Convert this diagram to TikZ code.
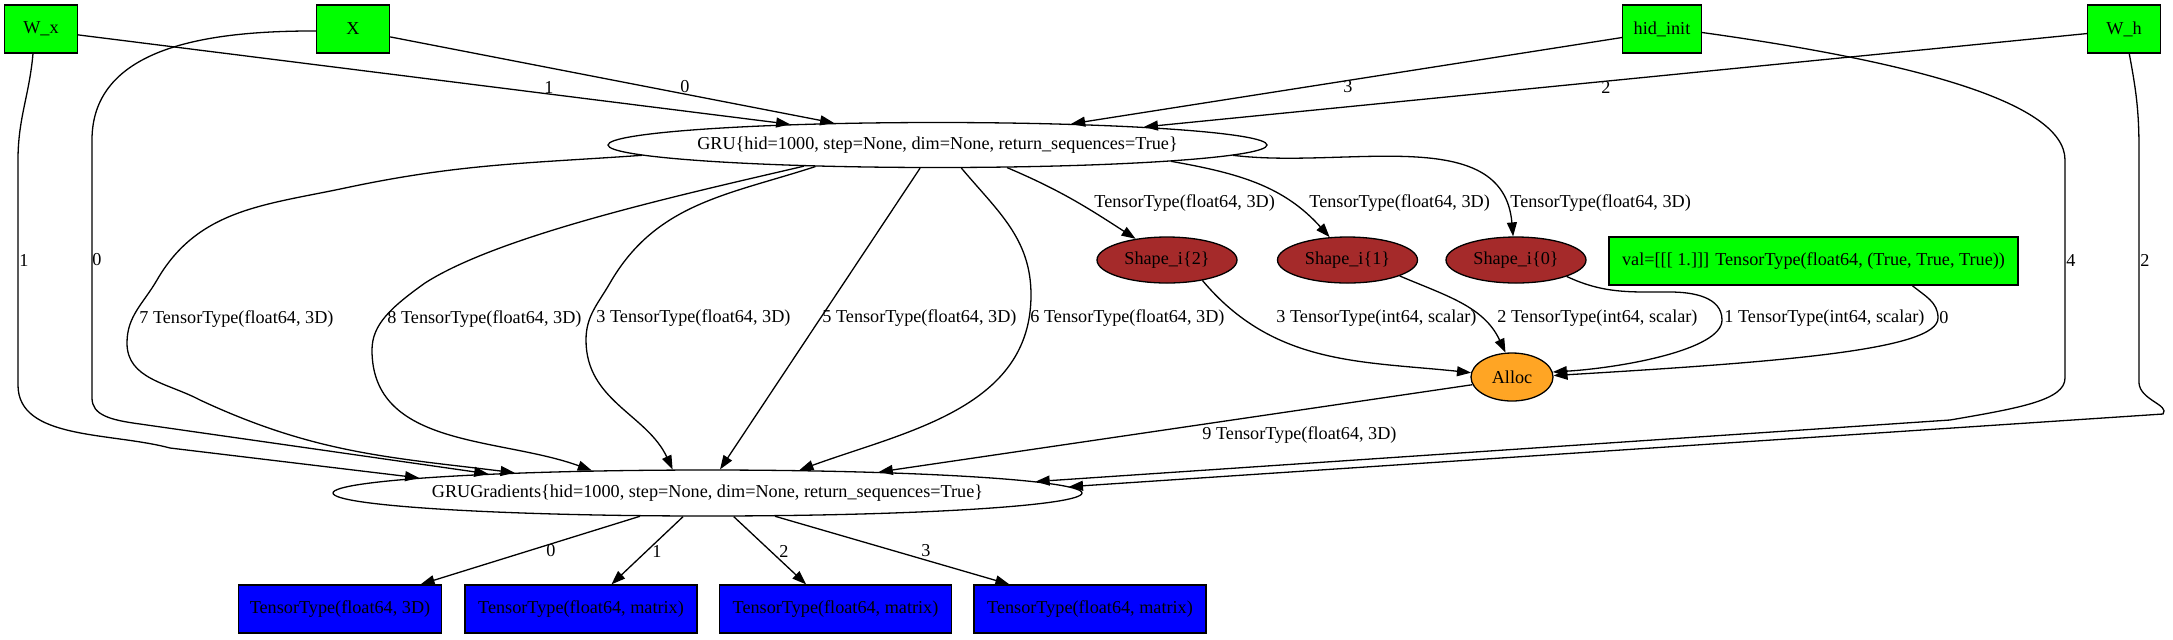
\documentclass[tikz,border=0pt]{standalone}
\usepackage{fontspec}
\setmainfont{Liberation Serif}
\usetikzlibrary{arrows.meta,shapes.geometric}
\definecolor{gvgreen}{RGB}{0,255,0}
\definecolor{gvbrown}{RGB}{165,42,42}
\definecolor{gvorange}{RGB}{255,165,36}
\definecolor{gvblue}{RGB}{0,0,255}

\begin{document}
\begin{tikzpicture}[x=0.5pt, y=-0.5pt,
    font=\fontsize{9.1}{11}\selectfont,
    inbox/.style={rectangle, draw, line width=0.65pt, fill=gvgreen,
                  minimum width=36.5pt, minimum height=24pt, inner sep=2pt},
    bigop/.style={ellipse, draw, line width=0.65pt, inner xsep=-6pt, inner ysep=0pt},
    shapeop/.style={ellipse, draw, line width=0.65pt, fill=gvbrown,
                    minimum width=70pt, minimum height=23pt, inner sep=0pt},
    allocop/.style={ellipse, draw, line width=0.65pt, fill=gvorange,
                    minimum width=41pt, minimum height=24pt, inner sep=0pt},
    outbox/.style={rectangle, draw, line width=0.65pt, fill=gvblue,
                   minimum width=116pt, minimum height=24pt, inner sep=2pt},
    lbl/.style={inner sep=0pt},
    lblw/.style={inner sep=0pt, anchor=west},
    arr/.style={-{Triangle[length=7pt, width=5pt]}, line width=0.65pt}
  ]
    \useasboundingbox (0,0) rectangle (2173,639);

    % inputs
    \node[inbox] (wx) at (41,29) {W\_x};
    \node[inbox] (xin) at (353,29) {X};
    \node[inbox, minimum width=39.5pt] (hidinit) at (1662,29) {hid\_init};
    \node[inbox] (wh) at (2124,29) {W\_h};

    % ops
    \node[bigop, minimum width=329.5pt, minimum height=22.5pt] (gru) at (937.5,145)
      {GRU\{hid=1000, step=None, dim=None, return\_sequences=True\}};
    \node[shapeop] (shp2) at (1167,260) {Shape\_i\{2\}};
    \node[shapeop] (shp1) at (1347.5,260) {Shape\_i\{1\}};
    \node[shapeop] (shp0) at (1516,260) {Shape\_i\{0\}};
    \node[inbox, minimum width=204.5pt] (valbox) at (1813.5,261)
      {val=[[[ 1.]]] TensorType(float64, (True, True, True))};
    \node[allocop] (alloc) at (1512,377) {Alloc};
    \node[bigop, minimum width=374.5pt, minimum height=23pt] (grugrad) at (707.5,493)
      {GRUGradients\{hid=1000, step=None, dim=None, return\_sequences=True\}};

    % outputs
    \node[outbox, minimum width=101.5pt] (out0) at (340,609) {TensorType(float64, 3D)};
    \node[outbox] (out1) at (581,609) {TensorType(float64, matrix)};
    \node[outbox] (out2) at (835.5,609) {TensorType(float64, matrix)};
    \node[outbox] (out3) at (1090,609) {TensorType(float64, matrix)};

    % inputs -> GRU
    \draw[arr] (wx.-9.3) -- (gru.172.4);
    \draw[arr] (xin.-12.5) -- (gru.168.2);
    \draw[arr] (hidinit.-168.7) -- (gru.9.4);
    \draw[arr] (wh.-173.7) -- (gru.5.9);
    \node[lbl] (lwx) at (549,87) {1};
    \node[lbl] (lx) at (685,87) {0};
    \node[lbl] (lhid) at (1348,87) {3};
    \node[lbl] (lwh) at (1606,87) {2};

    % inputs -> GRUGradients
    \draw[arr] (wx.-108.4) to[out=-95,in=90] (18,160) -- (18,385)
      .. controls (18,440) and (110,432) .. (170,448) -- (grugrad.177.8);
    \draw[arr] (xin.183.2) to[out=180,in=90] (92,140) -- (92,398)
      .. controls (92,415) and (110,420) .. (140,424) -- (grugrad.175.3);
    \draw[arr] (hidinit.-5.9) .. controls (1900,60) and (2065,100) .. (2065,160) -- (2065,378)
      .. controls (2065,400) and (2020,408) .. (1950,420) -- (grugrad.2.3);
    \draw[arr] (wh.-78) .. controls (2136,90) and (2139,110) .. (2139,150) -- (2139,383)
      .. controls (2140,400) and (2170,405) .. (2163,414) -- (grugrad.1.26);
    \node[lblw] (lwx2) at (19,260) {1};
    \node[lblw] (lx2) at (92,260) {0};
    \node[lblw] (lhid2) at (2066,260) {4};
    \node[lblw] (lwh2) at (2140,260) {2};

    % GRU -> GRUGradients
    \draw[arr] (gru.182.4) to[out=184,in=12] (345,188) to[out=192,in=60] (157,280)
      to[out=240,in=90] (127,343) to[out=-90,in=152] (200,400) to[out=-25,in=173] (grugrad.174.8);
    \draw[arr] (gru.189.1) .. controls (680,195) and (500,235) .. (425,283)
      .. controls (390,308) and (372,325) .. (372,350) to[out=-90,in=160] (grugrad.169.2);
    \draw[arr] (gru.190.6) to[out=198,in=60] (610,283) to[out=240,in=90] (586,340)
      to[out=-90,in=115] (grugrad.146.3);
    \draw[arr] (gru.233.9) -- (grugrad.62.6);
    \draw[arr] (gru.-44.4) to[out=-50,in=90] (1031,295) to[out=-90,in=20] (grugrad.14.1);
    \node[lblw] (l7) at (139,319) {7 TensorType(float64, 3D)};
    \node[lblw] (l8) at (387,319) {8 TensorType(float64, 3D)};
    \node[lblw] (l3) at (596,318) {3 TensorType(float64, 3D)};
    \node[lblw] (l5) at (822,318) {5 TensorType(float64, 3D)};
    \node[lblw] (l6) at (1030,318) {6 TensorType(float64, 3D)};

    % GRU -> Shape_i
    \draw[arr] (gru.-18.8) to[out=-23,in=147] (shp2.146.7);
    \draw[arr] (gru.-4.9) to[out=-10,in=132] (shp1.128.5);
    \draw[arr] (gru.-2.35) to[out=-7,in=95] (shp0.97.4);
    \node[lblw] (ls2) at (1094,203) {TensorType(float64, 3D)};
    \node[lblw] (ls1) at (1309,203) {TensorType(float64, 3D)};
    \node[lblw] (ls0) at (1510,203) {TensorType(float64, 3D)};

    % -> Alloc
    \draw[arr] (shp2.-30) to[out=-50,in=174] (alloc.174.4);
    \draw[arr] (shp1.-17.3) to[out=-23,in=115] (alloc.105.6);
    \draw[arr] (shp0.-18.4) to[out=-25,in=180] (1670,292) to[out=0,in=90] (1722,320)
      .. controls (1722,350) and (1620,368) .. (alloc.7);
    \draw[arr] (valbox.-14.7) to[out=-40,in=90] (1938,318)
      .. controls (1938,350) and (1780,362) .. (alloc.2);
    \node[lblw] (la3) at (1276,318) {3 TensorType(int64, scalar)};
    \node[lblw] (la2) at (1497,318) {2 TensorType(int64, scalar)};
    \node[lblw] (la1) at (1724,318) {1 TensorType(int64, scalar)};
    \node[lblw] (la0) at (1939,318) {0};

    % Alloc -> GRUGradients
    \draw[arr] (alloc.191.6) -- (grugrad.7.9);
    \node[lblw] (l9) at (1202,435) {9 TensorType(float64, 3D)};

    % GRUGradients -> outputs
    \draw[arr] (grugrad.-161.2) -- (out0.17.3);
    \draw[arr] (grugrad.-136.7) -- (out1.39.6);
    \draw[arr] (grugrad.-42.3) -- (out2.140.1);
    \draw[arr] (grugrad.-19.6) -- (out3.163.9);
    \node[lbl] (lo0) at (551,551) {0};
    \node[lbl] (lo1) at (657,551) {1};
    \node[lbl] (lo2) at (784,551) {2};
    \node[lbl] (lo3) at (926,551) {3};
  \end{tikzpicture}
\end{document}
